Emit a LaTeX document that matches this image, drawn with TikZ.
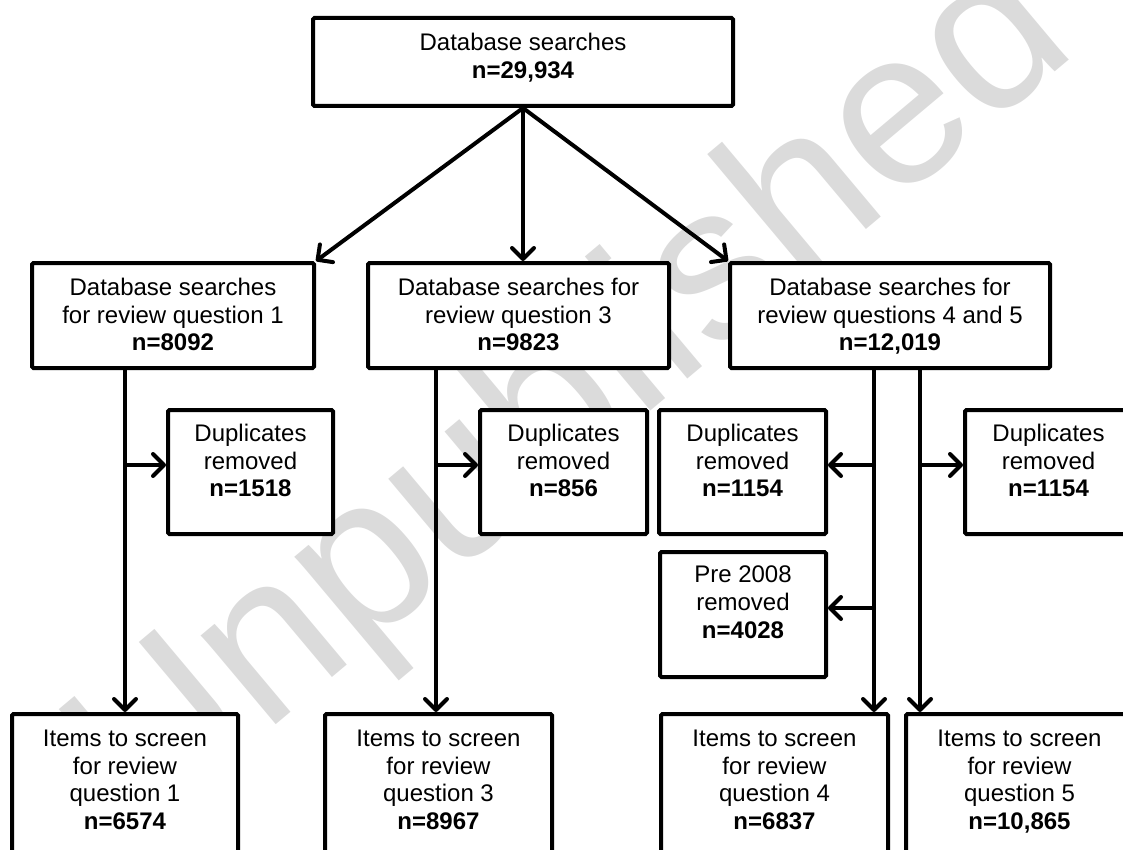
\documentclass[tikz,border=0pt]{standalone}
\usepackage{fontspec}
\setmainfont{Liberation Sans}
\usetikzlibrary{arrows.meta}
\begin{document}
\begin{tikzpicture}[x=1pt,y=-1pt,
  box/.style={draw=black, fill=white, line width=4pt, rounded corners=1.5pt, inner sep=0pt},
  txt/.style={align=center, inner sep=0pt, anchor=north, font=\fontsize{24}{27.6}\selectfont},
  arr/.style={line width=4pt, line cap=round, -{Straight Barb[length=11pt,width=22pt,line cap=round,line join=round]}},
  wmark/.style={text=black!14, rotate=40, inner sep=0pt, font=\fontsize{220}{220}\selectfont},
]
\useasboundingbox (0,0) rectangle (1123,850);

% watermark
\node[wmark] (wm) at (575,400) {Unpublished};

% boxes
\node[box, minimum width=420pt, minimum height=88pt] (T) at (523,62) {};
\node[box, minimum width=282pt, minimum height=105pt] (A) at (173,315.5) {};
\node[box, minimum width=301pt, minimum height=105pt] (B) at (518.5,315.5) {};
\node[box, minimum width=320pt, minimum height=105pt] (C) at (890,315.5) {};
\node[box, minimum width=165pt, minimum height=124pt] (D1) at (250.5,472) {};
\node[box, minimum width=167pt, minimum height=124pt] (D2) at (563.5,472) {};
\node[box, minimum width=167pt, minimum height=124pt] (D3) at (742.5,472) {};
\node[box, minimum width=167pt, minimum height=124pt] (D4) at (1048.5,472) {};
\node[box, minimum width=166pt, minimum height=125pt] (P) at (743,614.5) {};
\node[box, minimum width=226pt, minimum height=156pt] (E1) at (125,792) {};
\node[box, minimum width=227pt, minimum height=156pt] (E2) at (438.5,792) {};
\node[box, minimum width=227pt, minimum height=156pt] (E3) at (774.5,792) {};
\node[box, minimum width=227pt, minimum height=156pt] (E4) at (1019.5,792) {};

% texts
\node[txt] (tT) at ([yshift=-17pt]T.north) {Database searches\\\textbf{n=29,934}};
\node[txt] (tA) at ([yshift=-17pt]A.north) {Database searches\\for review question 1\\\textbf{n=8092}};
\node[txt] (tB) at ([yshift=-17pt]B.north) {Database searches for\\review question 3\\\textbf{n=9823}};
\node[txt] (tC) at ([yshift=-17pt]C.north) {Database searches for\\review questions 4 and 5\\\textbf{n=12,019}};
\node[txt] (tD1) at ([yshift=-16pt]D1.north) {Duplicates\\removed\\\textbf{n=1518}};
\node[txt] (tD2) at ([yshift=-16pt]D2.north) {Duplicates\\removed\\\textbf{n=856}};
\node[txt] (tD3) at ([yshift=-16pt]D3.north) {Duplicates\\removed\\\textbf{n=1154}};
\node[txt] (tD4) at ([yshift=-16pt]D4.north) {Duplicates\\removed\\\textbf{n=1154}};
\node[txt] (tP) at ([yshift=-16pt]P.north) {Pre 2008\\removed\\\textbf{n=4028}};
\node[txt] (tE1) at ([yshift=-18pt]E1.north) {Items to screen\\for review\\question 1\\\textbf{n=6574}};
\node[txt] (tE2) at ([yshift=-18pt]E2.north) {Items to screen\\for review\\question 3\\\textbf{n=8967}};
\node[txt] (tE3) at ([yshift=-18pt]E3.north) {Items to screen\\for review\\question 4\\\textbf{n=6837}};
\node[txt] (tE4) at ([yshift=-18pt]E4.north) {Items to screen\\for review\\question 5\\\textbf{n=10,865}};

% connectors
\draw[arr] (T.south) -- (A.north east);
\draw[arr] (T.south) -- (T.south |- B.north);
\draw[arr] (T.south) -- (C.north west);

\draw[arr] (E1.north |- A.south) -- (E1.north);
\coordinate (b1) at (125,465);
\draw[arr] (b1) -- (b1 -| D1.west);

\coordinate (s2) at (436,368);
\draw[arr] (s2) -- (s2 |- E2.north);
\coordinate (b2) at (436,465);
\draw[arr] (b2) -- (b2 -| D2.west);

\coordinate (s4) at (874,368);
\coordinate (s5) at (920,368);
\draw[arr] (s4) -- (s4 |- E3.north);
\draw[arr] (s5) -- (s5 |- E4.north);
\coordinate (b3) at (874,465);
\draw[arr] (b3) -- (b3 -| D3.east);
\coordinate (b4) at (874,608);
\draw[arr] (b4) -- (b4 -| P.east);
\coordinate (b5) at (920,465);
\draw[arr] (b5) -- (b5 -| D4.west);
\end{tikzpicture}
\end{document}
